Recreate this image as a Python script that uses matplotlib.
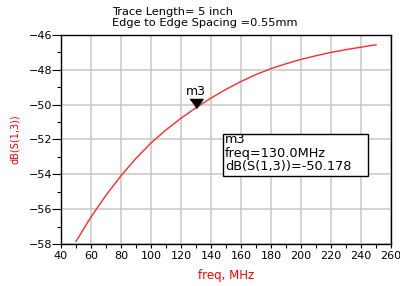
import matplotlib
matplotlib.use('Agg')
import matplotlib.pyplot as plt
from matplotlib.patches import Rectangle
from matplotlib.ticker import MultipleLocator

# values
freq = [50, 60, 70, 80, 90, 100, 110, 120, 130, 140, 150,
        160, 170, 180, 190, 200, 210, 220, 230, 240, 250]
s13_db = [-57.85, -56.45, -55.20, -54.08, -53.08, -52.20, -51.45, -50.78,
          -50.178, -49.62, -49.12, -48.67, -48.27, -47.93, -47.65, -47.40,
          -47.19, -47.00, -46.84, -46.70, -46.56]
marker_freq = 130.0
marker_db = -50.178
title_lines = ["Trace Length= 5 inch", "Edge to Edge Spacing =0.55mm"]

plt.rcParams['font.family'] = ['DejaVu Sans']

fig = plt.figure(figsize=(4, 2.86), dpi=100)
ax = fig.add_axes([0.1525, 0.1469, 0.825, 0.7307])

ax.plot(freq, s13_db, color='#ff2a2a', lw=1.0, zorder=3)

ax.set_xlim(40, 260)
ax.set_ylim(-58, -46)
ax.xaxis.set_major_locator(MultipleLocator(20))
ax.xaxis.set_minor_locator(MultipleLocator(10))
ax.yaxis.set_major_locator(MultipleLocator(2))
ax.yaxis.set_minor_locator(MultipleLocator(1))
ax.grid(True, which='major', color='#c8c8c8', lw=1.1)
ax.set_axisbelow(True)
for sp in ax.spines.values():
    sp.set_linewidth(1.0)
    sp.set_color('black')

ax.tick_params(axis='x', which='both', direction='out', length=3,
               width=0.8, labelsize=8, pad=2)
ax.tick_params(axis='y', which='major', direction='out', length=6.5,
               width=0.8, labelsize=8, pad=0)
ax.tick_params(axis='y', which='minor', direction='out', length=3, width=0.8)

ax.set_xlabel('freq, MHz', color='red', fontsize=8.5, labelpad=6)
ax.set_ylabel('dB(S(1,3))', color='red', fontsize=7, labelpad=6)

# marker m3 (tip of triangle sits on the trace)
tri = [(-0.72, 1.0), (0.72, 1.0), (0.0, 0.0)]
ax.plot([marker_freq], [marker_db], marker=tri, markersize=13,
        color='black', ls='none', zorder=5)
ax.annotate('m3', (marker_freq, marker_db), xytext=(0, 12),
            textcoords='offset points', ha='center', va='center',
            fontsize=9, zorder=5)

# readout box
ax.add_patch(Rectangle((0.491, 0.325), 0.439, 0.201, transform=ax.transAxes,
                       facecolor='white', edgecolor='black', lw=1.0,
                       zorder=6))
readout = ['m3', 'freq=%.1fMHz' % marker_freq, 'dB(S(1,3))=%.3f' % marker_db]
for i, line in enumerate(readout):
    ax.text(0.497, 0.498 - i * 0.063, line, transform=ax.transAxes,
            ha='left', va='center', fontsize=9.3, zorder=7)

fig.text(112 / 400, 1 - 12 / 286, title_lines[0], ha='left', va='center',
         fontsize=8.2)
fig.text(112 / 400, 1 - 23.5 / 286, title_lines[1], ha='left', va='center',
         fontsize=8.2)

fig.savefig('out.png', dpi=100)
